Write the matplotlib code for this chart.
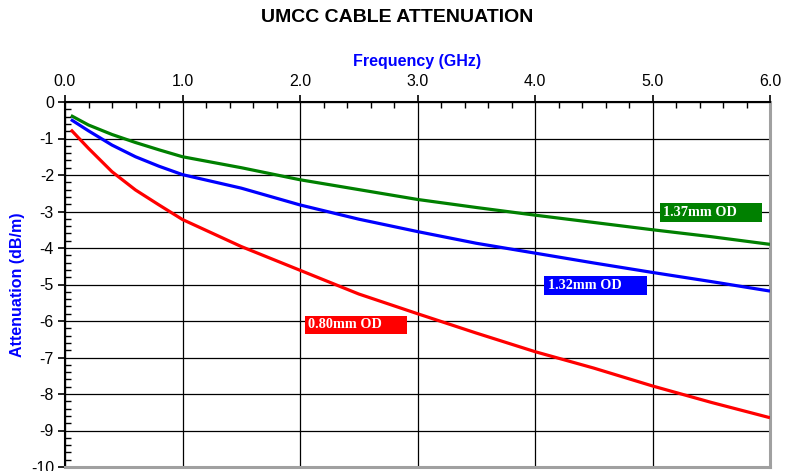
import matplotlib
matplotlib.use("Agg")
import matplotlib.pyplot as plt
from matplotlib.patches import Rectangle
from matplotlib.ticker import MultipleLocator, FormatStrFormatter

plt.rcParams['font.family'] = ['Liberation Sans', 'DejaVu Sans']

freq = [0.05, 0.2, 0.4, 0.6, 0.8, 1.0, 1.5, 2.0, 2.5, 3.0, 3.5, 4.0, 4.5, 5.0, 5.5, 6.0]
att_137 = [-0.37, -0.63, -0.89, -1.11, -1.31, -1.50, -1.80, -2.13, -2.40, -2.67, -2.89, -3.10, -3.30, -3.50, -3.69, -3.90]
att_132 = [-0.48, -0.79, -1.18, -1.50, -1.76, -1.99, -2.36, -2.82, -3.21, -3.55, -3.87, -4.14, -4.41, -4.67, -4.92, -5.18]
att_080 = [-0.76, -1.27, -1.91, -2.41, -2.82, -3.22, -3.96, -4.61, -5.26, -5.80, -6.33, -6.84, -7.29, -7.78, -8.23, -8.65]

labels = ["1.37mm OD", "1.32mm OD", "0.80mm OD"]
colors = ["#008000", "#0000FF", "#FF0000"]
series = [att_137, att_132, att_080]

fig = plt.figure(figsize=(7.94, 4.71), dpi=100)
ax = fig.add_axes([65/794, 1-467/471, (770-65)/794, (467-102)/471])

for y, c in zip(series, colors):
    ax.plot(freq, y, color=c, lw=2.3, solid_capstyle='butt', zorder=3)

ax.set_xlim(0, 6)
ax.set_ylim(-10, 0)
ax.xaxis.tick_top()
ax.xaxis.set_label_position('top')
ax.xaxis.set_major_locator(MultipleLocator(1.0))
ax.xaxis.set_minor_locator(MultipleLocator(0.2))
ax.xaxis.set_major_formatter(FormatStrFormatter('%.1f'))
ax.yaxis.set_major_locator(MultipleLocator(1))
ax.yaxis.set_minor_locator(MultipleLocator(0.2))
ax.yaxis.set_major_formatter(FormatStrFormatter('%d'))

ax.tick_params(axis='x', which='major', direction='out', length=5, width=1.2, labelsize=11.5, pad=4, top=True, bottom=False)
ax.tick_params(axis='x', which='minor', direction='in', length=4, width=1.0, top=True, bottom=False)
ax.tick_params(axis='y', which='major', direction='out', length=5, width=1.2, labelsize=11.5, pad=3, right=False)
ax.tick_params(axis='y', which='minor', direction='in', length=4, width=1.0, right=False)

ax.grid(True, which='major', color='black', lw=0.9, zorder=1)
ax.set_axisbelow(True)

ax.spines['left'].set_linewidth(1.5)
ax.spines['top'].set_linewidth(1.5)
ax.spines['right'].set_color('#a0a0a0')
ax.spines['right'].set_linewidth(2.2)
ax.spines['bottom'].set_color('#a0a0a0')
ax.spines['bottom'].set_linewidth(2.2)

ax.set_xlabel("Frequency (GHz)", color='#0000FF', fontweight='bold', fontsize=11.5, labelpad=6)
ax.set_ylabel("Attenuation (dB/m)", color='#0000FF', fontweight='bold', fontsize=11.5, labelpad=4)

fig.text(0.5, 1-17/471, "UMCC CABLE ATTENUATION", ha='center', va='center', fontsize=14, fontweight='bold')

# label boxes (x0, x1, y0, y1) in data coords
boxes = [(5.06, 5.93, -2.77, -3.28), (4.08, 4.95, -4.78, -5.30), (2.04, 2.91, -5.86, -6.35)]
for (x0, x1, y0, y1), c, t in zip(boxes, colors, labels):
    ax.add_patch(Rectangle((x0, y1), x1 - x0, y0 - y1, facecolor=c, edgecolor='none', zorder=4))
    ax.text(x0 + 0.03, (y0 + y1) / 2, t, color='white', fontweight='bold', fontsize=10.3,
            family=['Liberation Serif', 'DejaVu Serif'], ha='left', va='center', zorder=5)

fig.savefig("out.png", dpi=100)
